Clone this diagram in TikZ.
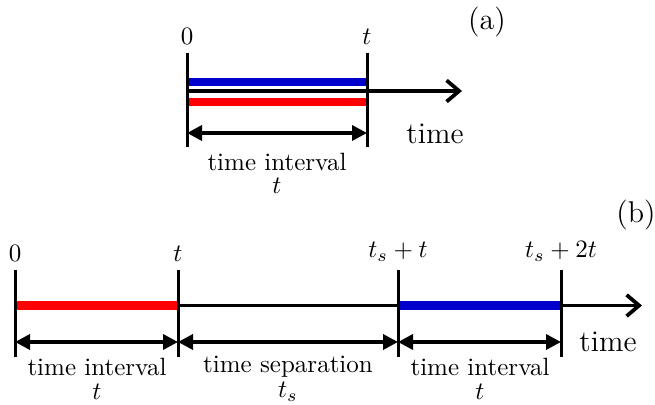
\documentclass[tikz,border=0pt]{standalone}
\usepackage{xcolor}
\usetikzlibrary{arrows.meta,positioning}
\definecolor{barblue}{RGB}{0,0,204}
\definecolor{barred}{RGB}{255,0,0}
\begin{document}
\begin{tikzpicture}[x=0.4pt,y=-0.4pt,
  tick/.style={line width=1.2pt},
  axis/.style={line width=1.5pt,-{Straight Barb[length=5pt,width=8.5pt]}},
  span/.style={line width=1.4pt,{Triangle[length=6pt,width=6pt]}-{Triangle[length=6pt,width=6pt]}},
  bar/.style={line width=3.4pt}]
\useasboundingbox (0,0) rectangle (655,405);
% panel (a)
\coordinate (a0t) at (187,53);  \coordinate (a0b) at (187,147);
\coordinate (a1t) at (367,53);  \coordinate (a1b) at (367,147);
\coordinate (ax0) at (187,91);  \coordinate (axe) at (462,91);
\coordinate (ab0) at (187,82);  \coordinate (ab1) at (366,82);
\coordinate (ar0) at (187,102); \coordinate (ar1) at (366,102);
\coordinate (as0) at (187,133); \coordinate (as1) at (367,133);
\draw[bar,barblue] (ab0) -- (ab1);
\draw[bar,barred] (ar0) -- (ar1);
\draw[axis] (ax0) -- (axe);
\draw[tick] (a0t) -- (a0b);
\draw[tick] (a1t) -- (a1b);
\draw[span] (as0) -- (as1);
\node[above=0pt of a0t] (la0) {$0$};
\node[above=0pt of a1t] (la1) {$t$};
\node (timea) at (435,134) {\large time};
\node (inta) at (277,162) {time interval};
\node (ta) at (277,186) {$t$};
\node (tagA) at (487,22) {\large (a)};
% panel (b)
\foreach \x/\n in {15/0,178/1,398/2,561/3}{
  \coordinate (bt\n) at (\x,270);
  \coordinate (bb\n) at (\x,357);
  \coordinate (bx\n) at (\x,305.5);
  \coordinate (bs\n) at (\x,342);
}
\coordinate (bxe) at (642,305.5);
\draw[axis] (bx0) -- (bxe);
\draw[bar,barred] (bx0) -- (bx1);
\draw[bar,barblue] (bx2) -- (bx3);
\foreach \n in {0,...,3}{
  \draw[tick] (bt\n) -- (bb\n);
}
\draw[span] (bs0) -- (bs1);
\draw[span] (bs1) -- (bs2);
\draw[span] (bs2) -- (bs3);
\node[above=0pt of bt0] (lb0) {$0$};
\node[above=0pt of bt1] (lb1) {$t$};
\node[above=0pt of bt2] (lb2) {$t_s+t$};
\node[above=0pt of bt3] (lb3) {$t_s+2t$};
\node (timeb) at (608,342) {\large time};
\node (int1) at (97,367) {time interval};
\node (t1) at (97,392) {$t$};
\node (sep) at (288,367) {time separation};
\node (ts) at (288,392) {$t_s$};
\node (int2) at (480,367) {time interval};
\node (t2) at (480,392) {$t$};
\node (tagB) at (636,215) {\large (b)};
\end{tikzpicture}
\end{document}
